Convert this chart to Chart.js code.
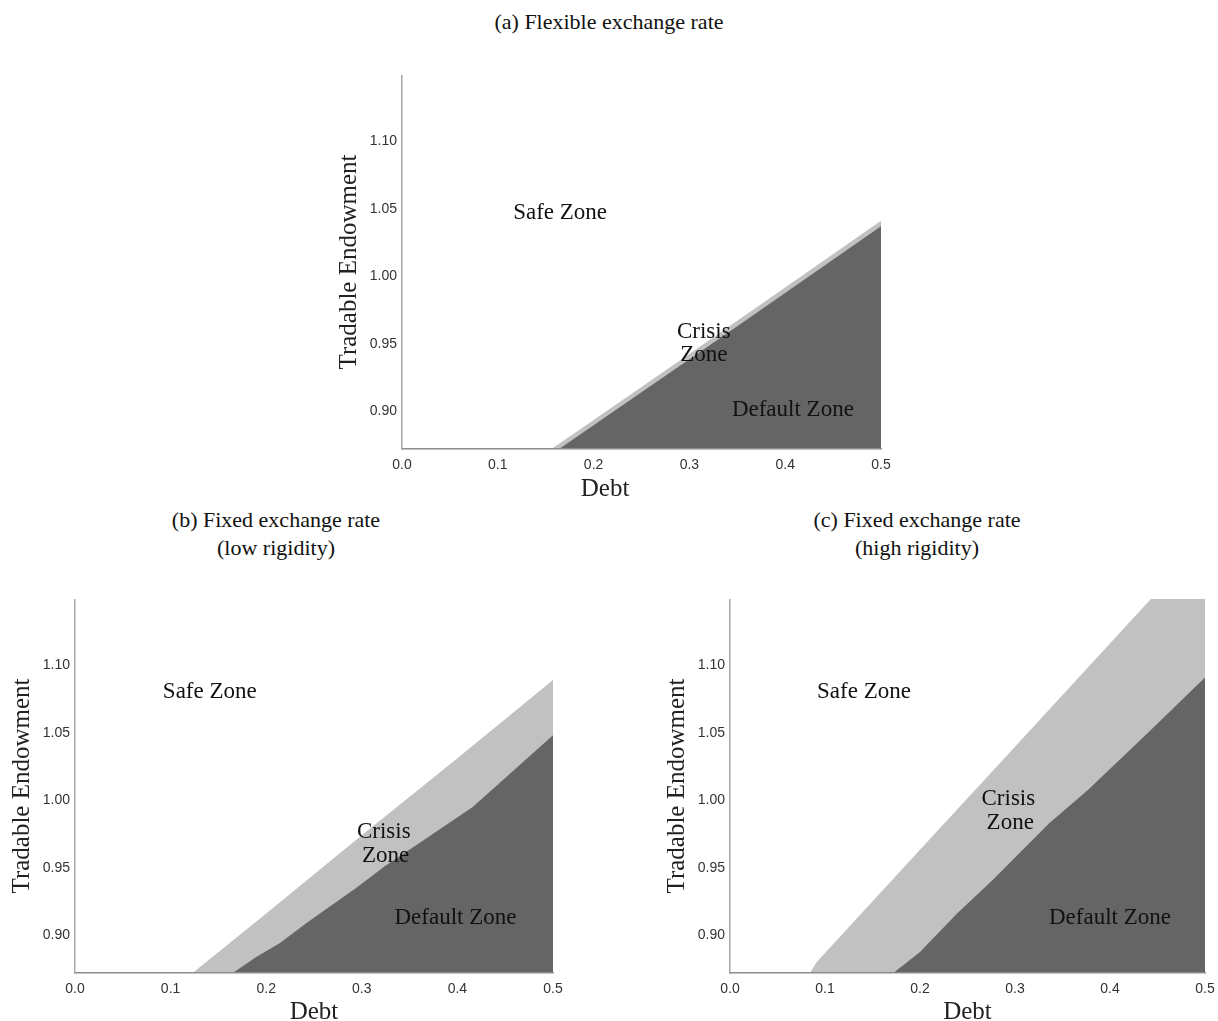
<!DOCTYPE html>
<html>
<head>
<meta charset="utf-8">
<script src="https://cdn.jsdelivr.net/npm/chart.js@4.4.1/dist/chart.umd.min.js"></script>
<style>
 body { margin:0; background:#fff; width:1218px; height:1021px; position:relative; overflow:hidden; }
 .ttl { position:absolute; font-family:"Liberation Serif", serif; font-size:22px; color:#111; text-align:center; line-height:28px; }
 .box { position:absolute; }
</style>
</head>
<body>
<div class="ttl" style="left:409px;top:8px;width:400px">(a) Flexible exchange rate</div>
<div class="ttl" style="left:76px;top:506px;width:400px">(b) Fixed exchange rate<br>(low rigidity)</div>
<div class="ttl" style="left:717px;top:506px;width:400px">(c) Fixed exchange rate<br>(high rigidity)</div>
<div class="box" style="left:330px;top:75px;width:566px;height:432px"><canvas id="chartA"></canvas></div>
<div class="box" style="left:3px;top:599px;width:565px;height:432px"><canvas id="chartB"></canvas></div>
<div class="box" style="left:658px;top:599px;width:562px;height:432px"><canvas id="chartC"></canvas></div>
<script>
// axes
var debtTicks = [0.0, 0.1, 0.2, 0.3, 0.4, 0.5];
var endowTicks = [0.90, 0.95, 1.00, 1.05, 1.10];
var endowMin = 0.872, endowMax = 1.149;

// (a) flexible exchange rate: upper edges of crisis and default zones
var flexCrisisDebt  = [0.156, 0.25, 0.35, 0.50];
var flexCrisisEndow = [0.872, 0.918, 0.967, 1.041];
var flexDefaultDebt  = [0.164, 0.25, 0.35, 0.50];
var flexDefaultEndow = [0.872, 0.914, 0.963, 1.037];

// (b) fixed, low rigidity
var lowCrisisDebt  = [0.123, 0.20, 0.30, 0.40, 0.50];
var lowCrisisEndow = [0.872, 0.916, 0.974, 1.031, 1.089];
var lowDefaultDebt  = [0.165, 0.19, 0.214, 0.244, 0.294, 0.324, 0.37, 0.416, 0.50];
var lowDefaultEndow = [0.872, 0.884, 0.894, 0.910, 0.935, 0.951, 0.973, 0.995, 1.048];

// (c) fixed, high rigidity
var highCrisisDebt  = [0.0842, 0.0913, 0.20, 0.30, 0.443, 0.50];
var highCrisisEndow = [0.872, 0.8802, 0.9632, 1.0396, 1.149, 1.149];
var highDefaultDebt  = [0.172, 0.20, 0.239, 0.2765, 0.336, 0.377, 0.44, 0.50];
var highDefaultEndow = [0.872, 0.8876, 0.9161, 0.9409, 0.983, 1.0078, 1.05, 1.0908];

// zone labels (data coordinates)
var zoneNames = ['Safe Zone', 'Crisis', 'Zone', 'Default Zone'];
var flexLabelDebt  = [0.165, 0.315, 0.315, 0.408];
var flexLabelEndow = [1.0467, 0.9585, 0.9415, 0.9007];
var lowLabelDebt  = [0.141, 0.323, 0.325, 0.398];
var lowLabelEndow = [1.080, 0.9763, 0.9585, 0.9126];
var highLabelDebt  = [0.141, 0.293, 0.295, 0.400];
var highLabelEndow = [1.080, 1.0007, 0.983, 0.9126];

function pts(xs, ys) {
  return xs.map(function(x, i) { return {x: x, y: ys[i]}; });
}

var zoneText = {
  id: 'zoneText',
  afterDatasetsDraw: function(chart, args, o) {
    var ctx = chart.ctx, xs = chart.scales.x, ys = chart.scales.y;
    ctx.save();
    ctx.fillStyle = '#111';
    ctx.textAlign = 'center';
    ctx.textBaseline = 'middle';
    ctx.font = '23px "Liberation Serif"';
    for (var i = 0; i < o.names.length; i++) {
      ctx.fillText(o.names[i], xs.getPixelForValue(o.x[i]), ys.getPixelForValue(o.y[i]));
    }
    if (o.titleAt != null) {
      ctx.font = '25px "Liberation Serif"';
      ctx.fillStyle = '#222';
      ctx.fillText('Debt', xs.getPixelForValue(o.titleAt), chart.chartArea.bottom + 40);
    }
    ctx.restore();
  }
};

function makeChart(id, cX, cY, dX, dY, lX, lY, titleAt) {
  new Chart(id, {
    type: 'scatter',
    data: {
      datasets: [
        { label: 'Default Zone', data: pts(dX, dY), showLine: true, fill: 'start',
          backgroundColor: '#656565', borderWidth: 0, pointRadius: 0, order: 0 },
        { label: 'Crisis Zone', data: pts(cX, cY), showLine: true, fill: 'start',
          backgroundColor: '#c1c1c1', borderWidth: 0, pointRadius: 0, order: 1 }
      ]
    },
    options: {
      responsive: true,
      maintainAspectRatio: false,
      animation: false,
      layout: { padding: { left: 0, right: 15, top: 0, bottom: 0 } },
      plugins: {
        legend: { display: false },
        tooltip: { enabled: false },
        zoneText: { names: zoneNames, x: lX, y: lY, titleAt: titleAt }
      },
      scales: {
        x: {
          type: 'linear', min: 0, max: 0.5,
          grid: { display: false, drawTicks: false },
          border: { display: true, color: '#8c8c8c', width: 1.5, z: 1 },
          afterBuildTicks: function(s) { s.ticks = debtTicks.map(function(v) { return {value: v}; }); },
          afterFit: function(s) { s.height = 58; s.paddingLeft = 0; s.paddingRight = 0; },
          ticks: { padding: 8, color: '#333', font: { size: 14, family: 'Liberation Sans' },
                   callback: function(v) { return v.toFixed(1); } },
          title: { display: titleAt == null, text: 'Debt', color: '#222', padding: 4,
                   font: { size: 25, family: 'Liberation Serif' } }
        },
        y: {
          type: 'linear', min: endowMin, max: endowMax,
          grid: { display: false, drawTicks: false },
          border: { display: true, color: '#a8a8a8', width: 1.5, z: 1 },
          afterBuildTicks: function(s) { s.ticks = endowTicks.map(function(v) { return {value: v}; }); },
          afterFit: function(s) { s.width = 72; s.paddingTop = 0; s.paddingBottom = 0; },
          ticks: { padding: 5, color: '#333', font: { size: 14, family: 'Liberation Sans' },
                   callback: function(v) { return v.toFixed(2); } },
          title: { display: true, text: 'Tradable Endowment', color: '#222', padding: 4,
                   font: { size: 25, family: 'Liberation Serif' } }
        }
      }
    },
    plugins: [zoneText]
  });
}

makeChart('chartA', flexCrisisDebt, flexCrisisEndow, flexDefaultDebt, flexDefaultEndow, flexLabelDebt, flexLabelEndow, 0.212);
makeChart('chartB', lowCrisisDebt, lowCrisisEndow, lowDefaultDebt, lowDefaultEndow, lowLabelDebt, lowLabelEndow, null);
makeChart('chartC', highCrisisDebt, highCrisisEndow, highDefaultDebt, highDefaultEndow, highLabelDebt, highLabelEndow, null);
</script>
</body>
</html>
